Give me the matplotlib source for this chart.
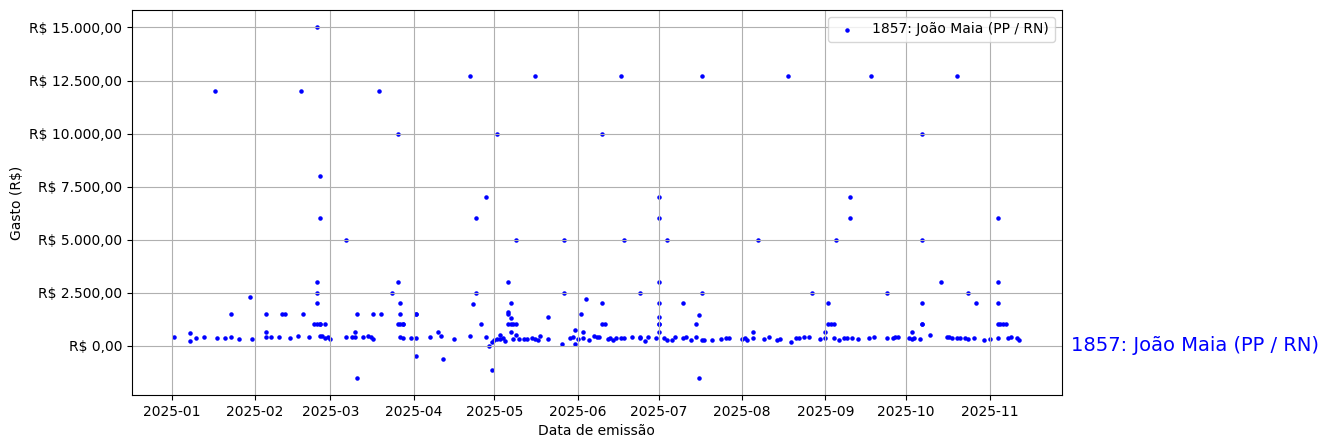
import matplotlib
matplotlib.use("Agg")
import matplotlib.pyplot as plt
import matplotlib.ticker as mticker
import pandas as pd

label = "1857: João Maia (PP / RN)"

dates = [
    "2025-01-02", "2025-01-08", "2025-01-08", "2025-01-10", "2025-01-13", "2025-01-17",
    "2025-01-18", "2025-01-21", "2025-01-23", "2025-01-23", "2025-01-26", "2025-01-30",
    "2025-01-31",
    "2025-02-05", "2025-02-05", "2025-02-05", "2025-02-07", "2025-02-10", "2025-02-11",
    "2025-02-12", "2025-02-14", "2025-02-17", "2025-02-18", "2025-02-19", "2025-02-21",
    "2025-02-24", "2025-02-24", "2025-02-24", "2025-02-24", "2025-02-23", "2025-02-24",
    "2025-02-25", "2025-02-25", "2025-02-25", "2025-02-25", "2025-02-25", "2025-02-26",
    "2025-02-27", "2025-02-27", "2025-02-28",
    "2025-03-01", "2025-03-07", "2025-03-07", "2025-03-09", "2025-03-10", "2025-03-10",
    "2025-03-11", "2025-03-11", "2025-03-13", "2025-03-15", "2025-03-16", "2025-03-17",
    "2025-03-17", "2025-03-19", "2025-03-20", "2025-03-24", "2025-03-26", "2025-03-26",
    "2025-03-26", "2025-03-27", "2025-03-27", "2025-03-27", "2025-03-27", "2025-03-28",
    "2025-03-28", "2025-03-28", "2025-03-31",
    "2025-04-02", "2025-04-02", "2025-04-02", "2025-04-02", "2025-04-07", "2025-04-10",
    "2025-04-11", "2025-04-12", "2025-04-16", "2025-04-22", "2025-04-22", "2025-04-24",
    "2025-04-23", "2025-04-24", "2025-04-26", "2025-04-28", "2025-04-28", "2025-04-29",
    "2025-04-30", "2025-04-30", "2025-05-01", "2025-05-02", "2025-05-02", "2025-05-03",
    "2025-05-03", "2025-05-04", "2025-05-05", "2025-05-06", "2025-05-07", "2025-05-06",
    "2025-05-06", "2025-05-07", "2025-05-06", "2025-05-07", "2025-05-08", "2025-05-09",
    "2025-05-07", "2025-05-08", "2025-05-09", "2025-05-09", "2025-05-10", "2025-05-12",
    "2025-05-13", "2025-05-15", "2025-05-16", "2025-05-16", "2025-05-17", "2025-05-18",
    "2025-05-21", "2025-05-21", "2025-05-26", "2025-05-27", "2025-05-27", "2025-05-29",
    "2025-05-30", "2025-05-31", "2025-05-31", "2025-06-01",
    "2025-06-02", "2025-06-03", "2025-06-03", "2025-06-04", "2025-06-05", "2025-06-07",
    "2025-06-08", "2025-06-09", "2025-06-10", "2025-06-10", "2025-06-10", "2025-06-11",
    "2025-06-12", "2025-06-13", "2025-06-14", "2025-06-15", "2025-06-17", "2025-06-17",
    "2025-06-18", "2025-06-18", "2025-06-21", "2025-06-24", "2025-06-24", "2025-06-24",
    "2025-06-26", "2025-06-27", "2025-06-30",
    "2025-07-01", "2025-07-01", "2025-07-01", "2025-07-01", "2025-07-01", "2025-07-01",
    "2025-07-01", "2025-07-01", "2025-07-03", "2025-07-04", "2025-07-04", "2025-07-06",
    "2025-07-07", "2025-07-10", "2025-07-10", "2025-07-11", "2025-07-13", "2025-07-15",
    "2025-07-16", "2025-07-16", "2025-07-17", "2025-07-17", "2025-07-15", "2025-07-17",
    "2025-07-18", "2025-07-21", "2025-07-24", "2025-07-26", "2025-07-27",
    "2025-08-01", "2025-08-02", "2025-08-03", "2025-08-05", "2025-08-05", "2025-08-07",
    "2025-08-09", "2025-08-11", "2025-08-14", "2025-08-15", "2025-08-18", "2025-08-19",
    "2025-08-21", "2025-08-22", "2025-08-24", "2025-08-26", "2025-08-27", "2025-08-30",
    "2025-09-01", "2025-09-01", "2025-09-02", "2025-09-02", "2025-09-03", "2025-09-04",
    "2025-09-04", "2025-09-05", "2025-09-06", "2025-09-08", "2025-09-09", "2025-09-10",
    "2025-09-10", "2025-09-11", "2025-09-13", "2025-09-17", "2025-09-18", "2025-09-19",
    "2025-09-24", "2025-09-24", "2025-09-26", "2025-09-27", "2025-09-28",
    "2025-10-02", "2025-10-03", "2025-10-03", "2025-10-04", "2025-10-06", "2025-10-07",
    "2025-10-07", "2025-10-07", "2025-10-07", "2025-10-07", "2025-10-10", "2025-10-14",
    "2025-10-16", "2025-10-17", "2025-10-18", "2025-10-20", "2025-10-20", "2025-10-21",
    "2025-10-23", "2025-10-24", "2025-10-24", "2025-10-26", "2025-10-27", "2025-10-30",
    "2025-11-01", "2025-11-04", "2025-11-04", "2025-11-04", "2025-11-04", "2025-11-04",
    "2025-11-05", "2025-11-06", "2025-11-07", "2025-11-08", "2025-11-09", "2025-11-11",
    "2025-11-12",
]

values = [
    430, 600, 220, 360, 410, 12000,
    360, 360, 410, 1500, 320, 2300,
    320,
    650, 1500, 410, 410, 410, 1500,
    1500, 370, 460, 12000, 1500, 410,
    15000, 3000, 2500, 2000, 1000, 1000,
    1000, 8000, 6000, 470, 1000, 470,
    1000, 360, 410,
    320, 410, 5000, 410, 650, 410,
    1500, -1500, 410, 470, 410, 320,
    1500, 12000, 1500, 2500, 3000, 10000,
    1000, 1000, 2000, 1500, 430, 1000,
    1000, 360, 360,
    1500, 1500, 360, -500, 430, 650,
    470, -630, 320, 470, 12700, 2500,
    1950, 6000, 1000, 7000, 430, 0,
    -1150, 170, 270, 320, 10000, 320,
    520, 360, 220, 3000, 2000, 1600,
    1500, 1300, 1000, 1000, 1000, 1000,
    650, 320, 510, 5000, 320, 320,
    320, 360, 12700, 320, 270, 470,
    1350, 320, 80, 2500, 5000, 360,
    410, 740, 80, 320,
    1500, 650, 360, 2200, 270, 470,
    430, 430, 2000, 10000, 1000, 1000,
    320, 360, 270, 360, 360, 12700,
    360, 5000, 430, 360, 430, 2500,
    220, 430, 360,
    7000, 6000, 3000, 2000, 1350, 1000,
    1000, 650, 360, 270, 5000, 270,
    430, 2000, 360, 430, 270, 1000,
    1450, -1500, 2500, 12700, 430, 270,
    270, 270, 320, 360, 360,
    320, 360, 270, 650, 360, 5000,
    320, 430, 270, 320, 12700, 170,
    360, 360, 430, 430, 2500, 320,
    360, 650, 2000, 1000, 1000, 1000,
    360, 5000, 270, 360, 360, 7000,
    6000, 360, 320, 360, 12700, 430,
    360, 2500, 360, 430, 430,
    360, 650, 320, 360, 320, 10000,
    5000, 2000, 1000, 1000, 510, 3000,
    430, 430, 360, 360, 12700, 360,
    360, 320, 2500, 360, 2000, 270,
    320, 6000, 3000, 2000, 360, 1000,
    1000, 1000, 1000, 360, 430, 360,
    270,
]

x = pd.to_datetime(dates)

fig = plt.figure(figsize=(13.28, 4.48), dpi=100)
ax = fig.add_axes([132 / 1328, 1 - 395 / 448, (1061.5 - 132) / 1328, 385 / 448])

ax.scatter(x, values, s=5, color="blue", label=label)
ax.grid(True)
ax.set_xlabel("Data de emissão")
ax.set_ylabel("Gasto (R$)")


def brl(v, pos):
    s = f"{v:,.2f}"
    s = s.replace(",", "X").replace(".", ",").replace("X", ".")
    return "R$ " + s


ax.yaxis.set_major_formatter(mticker.FuncFormatter(brl))
ax.legend(loc="upper right")

ax.annotate(label, xy=(1.01, 0), xycoords=ax.get_yaxis_transform(),
            color="blue", fontsize=14, va="center", ha="left",
            annotation_clip=False)

fig.savefig("out.png", dpi=100)
